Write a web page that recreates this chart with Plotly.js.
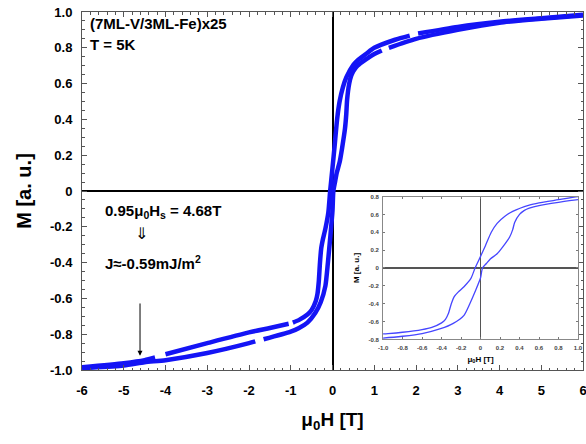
<!DOCTYPE html>
<html>
<head>
<meta charset="utf-8">
<script src="https://cdn.plot.ly/plotly-3.0.1.min.js"></script>
<style>html,body{margin:0;padding:0;background:#fff;}#chart{width:586px;height:444px;}</style>
</head>
<body>
<div id="chart"></div>
<script>
// Descending-field branch (upper branch), field in T, magnetization in a.u.
const fieldUpper = [-6, -5, -4.5, -4.25, null, -4.0, -3, -2, -1.5, -1.05, null, -0.95, -0.8, -0.6, -0.5, -0.4, -0.36, -0.33, -0.3, -0.27, -0.23, -0.17, -0.1, -0.056, 0, 0.05, 0.11, 0.17, 0.25, 0.33, 0.5, 0.6, 0.8, 1.0, 1.5, 1.85, null, 2.05, 3, 4, 5, 6];
const magUpper   = [-0.985, -0.962, -0.945, -0.93, null, -0.912, -0.85, -0.79, -0.765, -0.742, null, -0.735, -0.72, -0.69, -0.665, -0.615, -0.575, -0.51, -0.40, -0.32, -0.27, -0.21, -0.12, 0, 0.13, 0.25, 0.40, 0.50, 0.58, 0.635, 0.705, 0.73, 0.765, 0.80, 0.845, 0.868, null, 0.88, 0.917, 0.945, 0.965, 0.985];
// Ascending-field branch (lower branch)
const fieldLower = [-6, -5, -4.5, -4, -3, -2.0, -1.85, null, -1.65, -1, -0.8, -0.6, -0.41, -0.28, -0.17, -0.11, -0.05, 0, 0.02, 0.06, 0.1, 0.17, 0.23, 0.30, 0.33, 0.35, 0.40, 0.45, 0.5, 0.6, 0.8, 1.0, 1.18, null, 1.35, 2, 3, 4, 5, 6];
const magLower   = [-0.99, -0.975, -0.957, -0.945, -0.905, -0.85, -0.84, null, -0.828, -0.785, -0.765, -0.735, -0.68, -0.62, -0.53, -0.40, -0.25, -0.11, 0, 0.05, 0.10, 0.16, 0.24, 0.35, 0.43, 0.51, 0.60, 0.645, 0.67, 0.70, 0.735, 0.765, 0.785, null, 0.80, 0.85, 0.90, 0.94, 0.962, 0.98];

const xTickVals = [-6, -5, -4, -3, -2, -1, 0, 1, 2, 3, 4, 5, 6];
const xTickText = ['-6', '-5', '-4', '-3', '-2', '-1', '0', '1', '2', '3', '4', '5', '6'];
const yTickVals = [-1, -0.8, -0.6, -0.4, -0.2, 0, 0.2, 0.4, 0.6, 0.8, 1.0];
const yTickText = ['-1.0', '-0.8', '-0.6', '-0.4', '-0.2', '0', '0.2', '0.4', '0.6', '0.8', '1.0'];
const insetXTickVals = [-1, -0.8, -0.6, -0.4, -0.2, 0, 0.2, 0.4, 0.6, 0.8, 1.0];
const insetXTickText = ['-1.0', '-0.8', '-0.6', '-0.4', '-0.2', '0', '0.2', '0.4', '0.6', '0.8', '1.0'];
const insetYTickVals = [-0.8, -0.6, -0.4, -0.2, 0, 0.2, 0.4, 0.6, 0.8];
const insetYTickText = ['-0.8', '-0.6', '-0.4', '-0.2', '0', '0.2', '0.4', '0.6', '0.8'];

const FONT = 'Liberation Sans, Arial, sans-serif';
const mainColor = 'rgb(20,20,245)';
const insetColor = 'rgb(70,70,255)';

const traces = [
  {x: fieldUpper, y: magUpper, mode: 'lines', line: {color: mainColor, width: 4.5, shape: 'spline', smoothing: 0.6}, connectgaps: false, xaxis: 'x', yaxis: 'y', hoverinfo: 'skip'},
  {x: fieldLower, y: magLower, mode: 'lines', line: {color: mainColor, width: 4.5, shape: 'spline', smoothing: 0.6}, connectgaps: false, xaxis: 'x', yaxis: 'y', hoverinfo: 'skip'},
  {x: fieldUpper, y: magUpper, mode: 'lines', line: {color: insetColor, width: 1.3, shape: 'spline', smoothing: 0.6}, connectgaps: true, xaxis: 'x2', yaxis: 'y2', hoverinfo: 'skip'},
  {x: fieldLower, y: magLower, mode: 'lines', line: {color: insetColor, width: 1.3, shape: 'spline', smoothing: 0.6}, connectgaps: true, xaxis: 'x2', yaxis: 'y2', hoverinfo: 'skip'}
];

const layout = {
  width: 586, height: 444,
  margin: {l: 82, r: 3, t: 12, b: 74},
  paper_bgcolor: '#fff', plot_bgcolor: '#fff',
  showlegend: false,
  font: {family: FONT, color: '#000'},
  xaxis: {
    domain: [0, 1], range: [-6, 6], tickvals: xTickVals, ticktext: xTickText,
    ticks: 'inside', ticklen: 5, tickcolor: '#555', showline: true, linecolor: '#555', linewidth: 1, mirror: 'allticks',
    minor: {dtick: 0.2, ticks: 'inside', ticklen: 2.5, tickcolor: '#555'},
    showgrid: false, zeroline: true, zerolinecolor: '#000', zerolinewidth: 2,
    tickfont: {size: 13, family: FONT, weight: 'bold'}, ticklabelstandoff: 8, ticklabeloverflow: 'allow',
    title: {text: 'μ<sub>0</sub>H [T]', font: {size: 19, family: FONT, weight: 'bold'}, standoff: 16}
  },
  yaxis: {
    domain: [0, 1], range: [-1.0, 1.0], tickvals: yTickVals, ticktext: yTickText,
    ticks: 'inside', ticklen: 5, tickcolor: '#555', showline: true, linecolor: '#555', linewidth: 1, mirror: 'allticks',
    minor: {dtick: 0.05, ticks: 'inside', ticklen: 2.5, tickcolor: '#555'},
    showgrid: false, zeroline: true, zerolinecolor: '#000', zerolinewidth: 2,
    tickfont: {size: 13, family: FONT, weight: 'bold'}, ticklabelstandoff: 6, ticklabeloverflow: 'allow',
    title: {text: 'M [a. u.]', font: {size: 20, family: FONT, weight: 'bold'}, standoff: 12}
  },
  xaxis2: {
    domain: [0.601, 0.990], anchor: 'y2', range: [-1, 1], tickvals: insetXTickVals, ticktext: insetXTickText,
    ticks: 'inside', ticklen: 2, tickcolor: '#777', showline: true, linecolor: '#888', linewidth: 1, mirror: 'allticks',
    showgrid: false, zeroline: true, zerolinecolor: '#555', zerolinewidth: 1.2,
    tickfont: {size: 6, family: FONT, weight: 'bold', color: '#444'}, ticklabelstandoff: 2, ticklabeloverflow: 'allow',
    title: {text: 'μ<sub>0</sub>H [T]', font: {size: 8, family: FONT, weight: 'bold'}, standoff: 6}
  },
  yaxis2: {
    domain: [0.0855, 0.4844], anchor: 'x2', range: [-0.8, 0.8], tickvals: insetYTickVals, ticktext: insetYTickText,
    ticks: 'inside', ticklen: 2, tickcolor: '#777', showline: true, linecolor: '#888', linewidth: 1, mirror: 'allticks',
    showgrid: false, zeroline: true, zerolinecolor: '#555', zerolinewidth: 1.2,
    tickfont: {size: 6, family: FONT, weight: 'bold', color: '#444'}, ticklabelstandoff: 2, ticklabeloverflow: 'allow',
    title: {text: 'M [a. u.]', font: {size: 8, family: FONT, weight: 'bold'}, standoff: 7}
  },
  annotations: [
    {xref: 'x', yref: 'y', x: -5.86, y: 0.933, xanchor: 'left', yanchor: 'middle', showarrow: false,
     text: '(7ML-V/3ML-Fe)x25', font: {size: 15, family: FONT, weight: 'bold'}},
    {xref: 'x', yref: 'y', x: -5.86, y: 0.816, xanchor: 'left', yanchor: 'middle', showarrow: false,
     text: 'T = 5K', font: {size: 15, family: FONT, weight: 'bold'}},
    {xref: 'x', yref: 'y', x: -5.5, y: -0.117, xanchor: 'left', yanchor: 'middle', showarrow: false,
     text: '0.95μ<sub>0</sub>H<sub>s</sub> = 4.68T', font: {size: 15, family: FONT, weight: 'bold'}},
    {xref: 'x', yref: 'y', x: -4.58, y: -0.24, xanchor: 'center', yanchor: 'middle', showarrow: false,
     text: '⇓', font: {size: 16, family: 'DejaVu Sans, sans-serif', color: '#000'}},
    {xref: 'x', yref: 'y', x: -5.5, y: -0.397, xanchor: 'left', yanchor: 'middle', showarrow: false,
     text: 'J≈-0.59mJ/m<sup>2</sup>', font: {size: 15, family: FONT, weight: 'bold'}},
    {xref: 'x', yref: 'y', axref: 'x', ayref: 'y', x: -4.61, y: -0.92, ax: -4.61, ay: -0.62,
     showarrow: true, arrowhead: 2, arrowsize: 1, arrowwidth: 1, arrowcolor: '#000', text: ''}
  ]
};

Plotly.newPlot('chart', traces, layout, {staticPlot: true, displayModeBar: false});
</script>
</body>
</html>
